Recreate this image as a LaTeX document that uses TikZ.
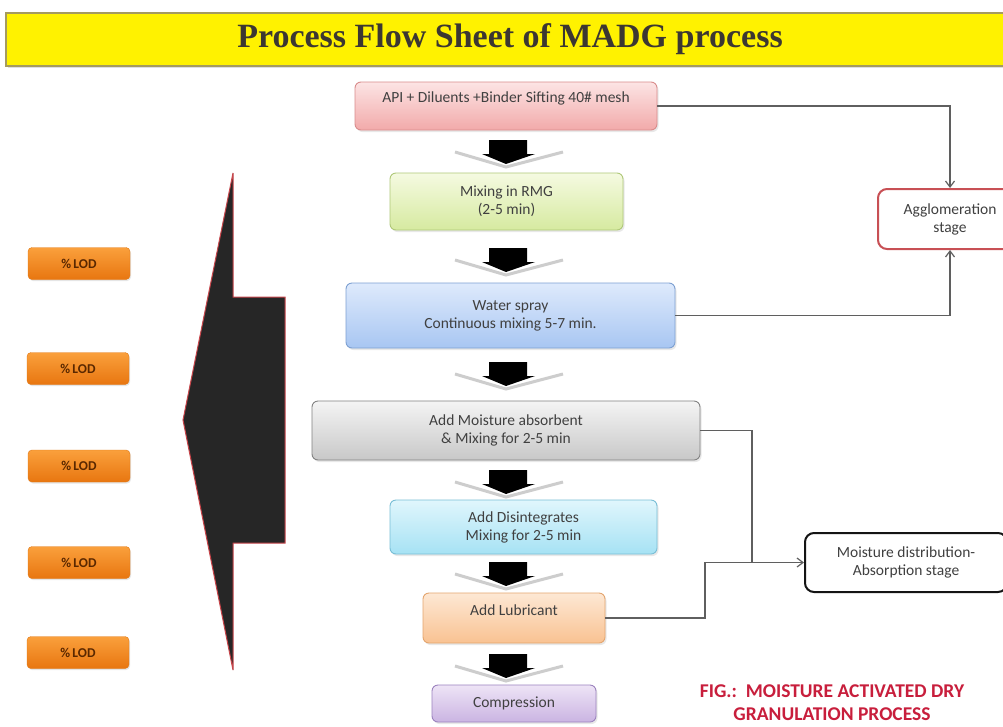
\documentclass[tikz,border=0pt]{standalone}
\usepackage{fontspec}
\setmainfont{Carlito}
\newfontfamily\titlefont{Liberation Serif}
\usetikzlibrary{arrows.meta,shadows}
\definecolor{txt}{HTML}{404040}
\definecolor{lnk}{HTML}{5F5F5F}
\definecolor{capred}{HTML}{C81E3C}
\tikzset{
  pbox/.style={rounded corners=6pt, draw, line width=0.9pt, align=center,
    font=\fontsize{15.5}{18}\selectfont, text=txt, inner sep=2pt,
    drop shadow={opacity=0.18, shadow xshift=1.5pt, shadow yshift=-2pt}},
  stagebox/.style={rounded corners=9pt, draw, line width=2pt, fill=white, align=center,
    font=\fontsize{15.5}{18}\selectfont, text=txt},
  lodbox/.style={rounded corners=4pt, top color={rgb,255:red,250;green,160;blue,60},
    bottom color={rgb,255:red,232;green,118;blue,16}, draw={rgb,255:red,225;green,120;blue,20},
    minimum width=102pt, minimum height=32pt, font=\bfseries\fontsize{13.5}{15}\selectfont,
    text={rgb,255:red,90;green,40;blue,0},
    drop shadow={opacity=0.2, shadow xshift=1pt, shadow yshift=-1.5pt}},
  link/.style={draw=lnk, line width=1.2pt},
  linkarrow/.style={link, -{Straight Barb[length=6pt,width=9pt,line width=1.2pt]}},
}
\newcommand{\downblock}[1]{%
  \draw[draw={rgb,255:red,205;green,205;blue,205}, line width=3pt, line join=miter]
    (455,#1+12) -- (506,#1+27) -- (563,#1+12);
  \fill[black] (489,#1) -- (527,#1) -- (527,#1+14) -- (535,#1+14) -- (506,#1+24)
    -- (482,#1+14) -- (489,#1+14) -- cycle;}
\begin{document}
\begin{tikzpicture}[x=1pt,y=-1pt]
\useasboundingbox (0,0) rectangle (1003,726);
\fill[white] (0,0) rectangle (1003,726);
% title
\node[draw={rgb,255:red,165;green,155;blue,95}, line width=1.5pt, fill=yellow,
  minimum width=1010pt, minimum height=53pt, anchor=north west, inner sep=0pt,
  drop shadow={opacity=0.25, shadow xshift=2pt, shadow yshift=-2pt}] (bar) at (5,12) {};
\node[font=\titlefont\bfseries\fontsize{34}{38}\selectfont, text={rgb,255:red,60;green,55;blue,50}]
  (title) at (510,39) {Process Flow Sheet of MADG process};
% process boxes
\node[pbox, top color={rgb,255:red,252;green,228;blue,228}, bottom color={rgb,255:red,242;green,170;blue,170},
  draw={rgb,255:red,217;green,140;blue,140}, minimum width=302pt, minimum height=48pt]
  (api) at (506,106) {API + Diluents +Binder Sifting 40\# mesh\\[0pt]\mbox{}};
\node[pbox, top color={rgb,255:red,245;green,250;blue,225}, bottom color={rgb,255:red,214;green,234;blue,160},
  draw={rgb,255:red,175;green,200;blue,120}, minimum width=233pt, minimum height=57pt]
  (rmg) at (506.5,201.5) {Mixing in RMG\\(2-5 min)};
\node[pbox, top color={rgb,255:red,222;green,234;blue,252}, bottom color={rgb,255:red,168;green,198;blue,242},
  draw={rgb,255:red,125;green,160;blue,210}, minimum width=329pt, minimum height=65pt]
  (water) at (510.5,315.5) {Water spray\\Continuous mixing 5-7 min.};
\node[pbox, top color={rgb,255:red,244;green,244;blue,244}, bottom color={rgb,255:red,200;green,200;blue,200},
  draw={rgb,255:red,130;green,130;blue,130}, minimum width=388pt, minimum height=59pt]
  (moist) at (506,430.5) {Add Moisture absorbent\\\& Mixing for 2-5 min};
\node[pbox, top color={rgb,255:red,224;green,246;blue,252}, bottom color={rgb,255:red,166;green,226;blue,244},
  draw={rgb,255:red,120;green,190;blue,214}, minimum width=267pt, minimum height=54pt]
  (dis) at (523.5,527) {Add Disintegrates\\Mixing for 2-5 min};
\node[pbox, top color={rgb,255:red,253;green,232;blue,212}, bottom color={rgb,255:red,249;green,194;blue,146},
  draw={rgb,255:red,228;green,165;blue,110}, minimum width=182pt, minimum height=50pt]
  (lub) at (514,618) {Add Lubricant\\[-2pt]\mbox{}};
\node[pbox, top color={rgb,255:red,238;green,228;blue,246}, bottom color={rgb,255:red,202;green,180;blue,226},
  draw={rgb,255:red,155;green,130;blue,190}, minimum width=164pt, minimum height=37pt]
  (comp) at (514,703.5) {Compression};
% block arrows between boxes
\downblock{140}
\downblock{248}
\downblock{362}
\downblock{470}
\downblock{562}
\downblock{654}
% stage boxes
\node[stagebox, draw={rgb,255:red,200;green,80;blue,85}, minimum width=144pt, minimum height=60pt]
  (agg) at (950,219) {Agglomeration\\stage};
\node[stagebox, draw={rgb,255:red,20;green,20;blue,20}, minimum width=202pt, minimum height=59pt]
  (md) at (906,562.5) {Moisture distribution-\\Absorption stage};
% connectors
\draw[linkarrow] (api.east) -| (agg.north);
\draw[linkarrow] (water.east) -| (agg.south);
\coordinate (j) at (752,562.5);
\coordinate (k) at (705,562.5);
\draw[link] (moist.east) -| (j);
\draw[linkarrow] (lub.east) -| (k) -- (md.west);
% big left arrow
\filldraw[fill={rgb,255:red,38;green,38;blue,38}, draw={rgb,255:red,200;green,70;blue,75}, line width=1pt]
  (233,173) -- (233,297) -- (285,297) -- (285,543) -- (233,543) -- (233,670) -- (183,420) -- cycle;
% LOD boxes
\node[lodbox] (l1) at (79,263.5) {\%\,LOD};
\node[lodbox] (l2) at (78,368.5) {\%\,LOD};
\node[lodbox] (l3) at (79,466) {\%\,LOD};
\node[lodbox] (l4) at (79,562.5) {\%\,LOD};
\node[lodbox] (l5) at (78,652.5) {\%\,LOD};
% caption
\node[font=\bfseries\fontsize{19.5}{23}\selectfont, text=capred, align=center]
  (cap) at (832,703) {FIG.:\ \ MOISTURE ACTIVATED DRY\\GRANULATION PROCESS};
\end{tikzpicture}
\end{document}
